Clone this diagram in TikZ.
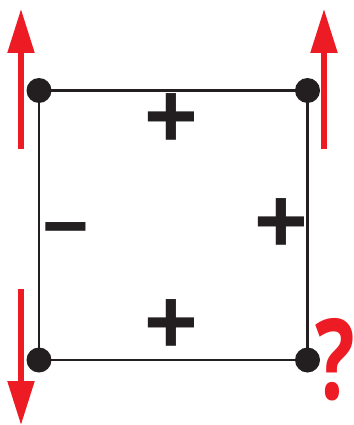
\documentclass[tikz,border=0pt]{standalone}
\usepackage{fontspec}
\setmainfont{Liberation Sans}
\newfontfamily\qfont{Open Sans}
\usetikzlibrary{arrows.meta}
\definecolor{ink}{HTML}{231F20}
\definecolor{signred}{HTML}{ED1C24}
\tikzset{
  edge/.style={draw=ink, line width=2.6pt},
  corner/.style={circle, fill=ink, minimum size=25pt, inner sep=0pt},
  redarrow/.style={draw=signred, line width=5.3pt, -{Triangle[width=26pt,length=44pt]}, fill=signred},
  sign/.style={text=ink, inner sep=0pt, font=\fontsize{92}{92}\selectfont\bfseries},
}
\begin{document}
\begin{tikzpicture}[x=1pt, y=-1pt]
\useasboundingbox (0,0) rectangle (353,425);
\coordinate (tl) at (39,90.5);
\coordinate (tr) at (307.5,90.5);
\coordinate (br) at (307.5,360);
\coordinate (bl) at (39,360);
\draw[edge] (tl) -- (tr) -- (br) -- (bl) -- cycle;
\node[corner] (dtl) at (tl) {};
\node[corner] (dtr) at (tr) {};
\node[corner] (dbr) at (br) {};
\node[corner] (dbl) at (bl) {};
\coordinate (a1s) at (21,149);
\coordinate (a1e) at (21,9);
\coordinate (a2s) at (324,149);
\coordinate (a2e) at (324,9);
\coordinate (a3s) at (21,289);
\coordinate (a3e) at (21,425);
\draw[redarrow] (a1s) -- (a1e);
\draw[redarrow] (a2s) -- (a2e);
\draw[redarrow] (a3s) -- (a3e);
\node[sign] (ptop) at (171,121) {+};
\node[sign] (pright) at (281,226) {+};
\node[sign] (pbot) at (171,327) {+};
\node[sign, font=\fontsize{80}{80}\selectfont\bfseries] (mleft) at (66,238) {−};
\node[text=signred, inner sep=0pt, xscale=0.74, font=\qfont\fontsize{112}{112}\selectfont\bfseries] (q) at (335,360) {?};
\end{tikzpicture}
\end{document}
